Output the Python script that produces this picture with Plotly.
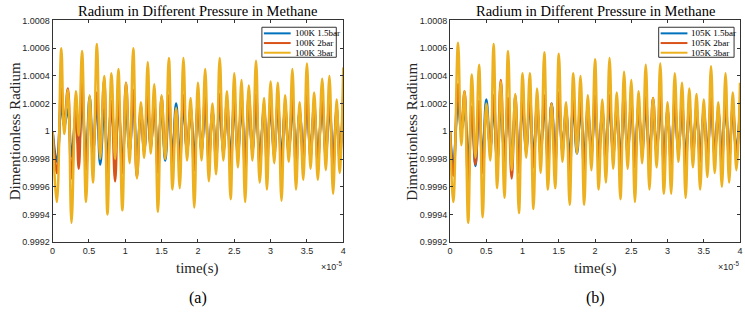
import plotly.graph_objects as go

# time in units of 1e-5 s (extrema)
time_a = [0, 0.06, 0.12, 0.16, 0.21, 0.26, 0.32, 0.36, 0.405, 0.46,
          0.51, 0.555, 0.61, 0.655, 0.71, 0.755, 0.81, 0.86, 0.905, 0.96,
          1.01, 1.06, 1.11, 1.16, 1.215, 1.26, 1.31, 1.35, 1.40, 1.45,
          1.50, 1.55, 1.60, 1.65, 1.70, 1.75, 1.80, 1.85, 1.90, 1.95,
          2.00, 2.05, 2.10, 2.15, 2.20, 2.25, 2.30, 2.35, 2.40, 2.45,
          2.50, 2.55, 2.60, 2.65, 2.70, 2.75, 2.80, 2.85, 2.91, 2.95,
          3.00, 3.05, 3.10, 3.15, 3.20, 3.25, 3.30, 3.35, 3.40, 3.45,
          3.50, 3.55, 3.60, 3.65, 3.71, 3.76, 3.81, 3.86, 3.91, 3.95, 4.00]

# deviation from 1 in units of 1e-4
a_15bar = [0, -2.2, 2.0, 0.3, 1.6, -1.8, 1.2, -1.2, 2.0, -1.8,
           2.5, -1.5, 2.0, -2.4, 1.6, -1.8, 1.8, -1.4, 1.8, -2.3,
           1.5, -1.4, 2.2, -1.7, 1.3, -1.3, 1.8, -1.0, 1.5, -1.6,
           1.6, -2.1, 1.7, -1.6, 2.0, -1.8, 1.8, -1.3, 1.4, -1.8,
           1.6, -1.3, 1.7, -1.6, 1.3, -1.5, 1.8, -1.3, 1.5, -1.7,
           1.7, -1.4, 1.6, -1.8, 1.6, -1.3, 1.8, -1.6, 1.4, -1.6,
           1.6, -1.4, 1.5, -1.7, 1.4, -1.3, 1.7, -1.6, 1.3, -1.5,
           1.8, -1.4, 1.5, -1.5, 1.6, -1.4, 1.6, -1.7, 1.3, -1.4, 1.7]
a_2bar = [0, -3.0, 3.1, 0.5, 3.1, -3.4, 1.5, -2.7, 3.5, -2.8,
          1.8, -1.6, 2.8, -1.5, 3.7, -3.2, 2.2, -3.6, 2.5, -3.0,
          3.5, -1.5, 3.0, -3.3, 1.8, -1.5, 2.6, -1.2, 2.0, -3.0,
          2.5, -1.8, 2.6, -2.4, 1.6, -2.5, 2.6, -1.5, 1.8, -2.8,
          2.2, -1.5, 2.5, -2.2, 1.5, -2.0, 2.7, -1.6, 2.2, -2.8,
          2.4, -1.8, 2.4, -2.9, 2.7, -1.5, 2.7, -2.4, 1.8, -2.5,
          2.3, -1.8, 2.2, -2.7, 1.8, -1.6, 2.5, -2.5, 1.5, -2.2,
          2.6, -1.9, 2.0, -2.2, 2.3, -1.9, 2.4, -2.6, 1.7, -2.0, 2.6]
a_3bar = [0, -5.1, 6.0, -0.2, 3.0, -6.6, 2.9, -0.3, 5.8, -5.1,
          2.6, -3.7, 6.3, -2.0, 4.0, -6.0, 4.2, -2.0, 4.5, -5.7,
          3.5, -2.3, 6.0, -3.4, 2.1, -1.9, 5.0, -1.6, 3.4, -5.8,
          2.6, -2.0, 5.3, -4.2, 1.7, -4.1, 5.3, -2.1, 2.4, -5.5,
          3.5, -2.1, 4.5, -3.6, 2.0, -3.1, 5.3, -2.1, 2.9, -4.9,
          4.2, -2.6, 3.7, -5.1, 3.3, -2.1, 5.1, -3.7, 2.4, -4.2,
          3.6, -2.3, 3.5, -5.0, 2.6, -2.2, 4.5, -4.2, 2.1, -3.5,
          4.9, -2.7, 2.8, -3.5, 3.8, -2.8, 4.0, -4.5, 2.3, -3.0, 4.6]

time_b = [0, 0.045, 0.11, 0.155, 0.20, 0.25, 0.30, 0.35, 0.40, 0.45,
          0.50, 0.555, 0.60, 0.65, 0.70, 0.75, 0.80, 0.85, 0.90, 0.95,
          1.00, 1.05, 1.10, 1.15, 1.20, 1.25, 1.30, 1.35, 1.40, 1.45,
          1.50, 1.55, 1.60, 1.65, 1.70, 1.75, 1.80, 1.85, 1.90, 1.95,
          2.00, 2.05, 2.10, 2.15, 2.20, 2.25, 2.30, 2.35, 2.40, 2.45,
          2.50, 2.55, 2.60, 2.65, 2.70, 2.75, 2.80, 2.85, 2.90, 2.95,
          3.00, 3.05, 3.10, 3.15, 3.20, 3.25, 3.30, 3.35, 3.40, 3.45,
          3.50, 3.55, 3.60, 3.65, 3.70, 3.75, 3.80, 3.85, 3.90, 3.95, 4.00]
b_15bar = [0, -2.5, 2.1, 0.0, 1.5, -2.0, 1.5, -2.5, 1.8, -1.8,
           2.3, -1.2, 1.8, -2.2, 1.8, -1.6, 2.1, -1.8, 1.5, -2.0,
           1.8, -1.2, 1.9, -1.8, 1.5, -1.3, 1.8, -1.7, 2.0, -1.6,
           2.0, -1.1, 1.3, -1.8, 1.7, -1.6, 1.6, -1.8, 1.3, -1.3,
           1.8, -1.6, 1.2, -1.5, 1.8, -1.3, 1.3, -1.7, 1.7, -1.3,
           1.5, -1.7, 1.4, -1.2, 1.7, -1.6, 1.4, -1.3, 1.7, -1.6,
           1.2, -1.6, 1.6, -1.2, 1.4, -1.7, 1.4, -1.3, 1.3, -1.6,
           1.2, -1.4, 1.7, -1.4, 1.2, -1.5, 1.6, -1.5, 1.3, -1.3, 1.5]
b_2bar = [0, -3.2, 3.4, 0.0, 2.9, -3.8, 1.8, -2.4, 2.2, -3.0,
          1.6, -1.2, 2.6, -2.2, 3.7, -2.2, 2.4, -3.4, 2.6, -3.0,
          2.4, -1.5, 2.6, -2.6, 2.0, -1.8, 2.6, -2.2, 2.0, -2.4,
          2.8, -1.5, 1.6, -3.0, 2.2, -1.2, 2.2, -2.8, 1.8, -1.8,
          2.6, -2.2, 1.6, -2.2, 2.6, -1.8, 1.8, -2.5, 2.8, -1.7,
          2.2, -2.6, 1.9, -1.6, 2.5, -2.2, 2.4, -1.7, 2.5, -2.4,
          1.6, -2.4, 2.3, -1.5, 2.0, -2.5, 1.9, -1.7, 1.7, -2.2,
          1.6, -1.9, 2.4, -1.8, 1.5, -2.2, 2.3, -2.0, 1.8, -1.7, 2.0]
b_3bar = [0, -5.1, 6.4, -1.0, 2.9, -6.6, 4.1, -1.9, 4.8, -6.2,
          2.0, -2.1, 6.3, -4.1, 3.6, -4.8, 5.8, -2.8, 2.7, -5.9,
          4.2, -1.9, 4.2, -5.6, 3.1, -3.0, 5.7, -4.2, 2.0, -4.1,
          5.6, -2.2, 2.1, -5.3, 4.2, -1.6, 4.0, -5.3, 2.6, -2.8,
          5.2, -4.2, 2.3, -3.7, 5.3, -2.7, 2.8, -4.9, 4.3, -2.7,
          3.7, -5.1, 2.9, -2.3, 4.8, -4.2, 2.4, -2.6, 4.9, -4.5,
          2.1, -4.5, 4.2, -2.2, 3.5, -4.8, 3.1, -2.6, 2.7, -4.2,
          2.3, -3.3, 4.7, -3.0, 2.1, -4.0, 4.2, -3.7, 2.8, -2.8, 3.5]

names_a = ["100K 1.5bar", "100K 2bar", "100K 3bar"]
names_b = ["105K 1.5bar", "105K 2bar", "105K 3bar"]
colors = ["#0072BD", "#D95319", "#EDB120"]
y_ticks = [0.9992, 0.9994, 0.9996, 0.9998, 1.0, 1.0002, 1.0004, 1.0006, 1.0008]
y_ticktext = ["0.9992", "0.9994", "0.9996", "0.9998", "1", "1.0002", "1.0004", "1.0006", "1.0008"]
x_ticks = [0, 0.5, 1, 1.5, 2, 2.5, 3, 3.5, 4]
x_ticktext = ["0", "0.5", "1", "1.5", "2", "2.5", "3", "3.5", "4"]

W, H = 745, 313
def px(x): return x / W
def py(y): return 1 - y / H

fig = go.Figure()
for series, name, col in zip([a_15bar, a_2bar, a_3bar], names_a, colors):
    fig.add_trace(go.Scatter(x=time_a, y=[1 + d * 1e-4 for d in series], mode="lines",
                             name=name, line=dict(color=col, width=2.5, shape="spline", smoothing=1.2),
                             xaxis="x", yaxis="y", showlegend=False))
for series, name, col in zip([b_15bar, b_2bar, b_3bar], names_b, colors):
    fig.add_trace(go.Scatter(x=time_b, y=[1 + d * 1e-4 for d in series], mode="lines",
                             name=name, line=dict(color=col, width=2.5, shape="spline", smoothing=1.2),
                             xaxis="x2", yaxis="y2", showlegend=False))

axis_common = dict(showgrid=False, zeroline=False, showline=True, linecolor="#333333",
                   linewidth=1, mirror="ticks", ticks="inside", ticklen=3, tickcolor="#333333",
                   tickfont=dict(family="Liberation Sans, Arial", size=9, color="#262626"))
ydom = [py(245), py(16)]
fig.update_layout(
    width=W, height=H, margin=dict(l=0, r=0, t=0, b=0),
    paper_bgcolor="white", plot_bgcolor="white",
    xaxis=dict(domain=[px(50), px(343)], range=[0, 4], tickvals=x_ticks, ticktext=x_ticktext,
               anchor="y", **axis_common),
    yaxis=dict(domain=ydom, range=[0.9992, 1.0008], tickvals=y_ticks, ticktext=y_ticktext,
               anchor="x", **axis_common),
    xaxis2=dict(domain=[px(450.7), px(743)], range=[0, 4], tickvals=x_ticks, ticktext=x_ticktext,
                anchor="y2", **axis_common),
    yaxis2=dict(domain=ydom, range=[0.9992, 1.0008], tickvals=y_ticks, ticktext=y_ticktext,
                anchor="x2", **axis_common),
)

serif = "Liberation Serif, Times New Roman"
annotations = []
shapes = []
panels = [
    dict(x0=50, x1=343, label="(a)", names=names_a, lg=(261, 336)),
    dict(x0=450.7, x1=743, label="(b)", names=names_b, lg=(661, 737)),
]
for p in panels:
    cx = (p["x0"] + p["x1"]) / 2
    annotations.append(dict(text="Radium in Different Pressure in Methane", x=px(cx), y=py(6),
                            xref="paper", yref="paper", showarrow=False, xanchor="center", yanchor="middle",
                            font=dict(family=serif, size=14.5, color="black")))
    annotations.append(dict(text="time(s)", x=px(cx), y=py(272), xref="paper", yref="paper",
                            showarrow=False, xanchor="center", yanchor="middle",
                            font=dict(family=serif, size=15, color="#262626")))
    annotations.append(dict(text="×10<sup>-5</sup>", x=px(min(p["x1"] + 1, 744.5)), y=py(270),
                            xref="paper", yref="paper",
                            showarrow=False, xanchor="right", yanchor="middle",
                            font=dict(family="Liberation Sans, Arial", size=9, color="#262626")))
    annotations.append(dict(text=p["label"], x=px(cx), y=py(303), xref="paper", yref="paper",
                            showarrow=False, xanchor="center", yanchor="middle",
                            font=dict(family=serif, size=16, color="black")))
    annotations.append(dict(text="Dimentionless Radium", x=px(p["x0"] - 38), y=py(130.5),
                            xref="paper", yref="paper", showarrow=False, textangle=-90,
                            xanchor="center", yanchor="middle",
                            font=dict(family=serif, size=15, color="#262626")))
    lx0, lx1 = p["lg"]
    shapes.append(dict(type="rect", xref="paper", yref="paper", x0=px(lx0), x1=px(lx1),
                       y0=py(54), y1=py(23), line=dict(color="#333333", width=1), fillcolor="white"))
    for i, (nm, col) in enumerate(zip(p["names"], colors)):
        yy = 29.3 + 10 * i
        shapes.append(dict(type="line", xref="paper", yref="paper", x0=px(lx0 + 2), x1=px(lx0 + 29),
                           y0=py(yy), y1=py(yy), line=dict(color=col, width=2)))
        annotations.append(dict(text=nm, x=px(lx0 + 31), y=py(yy), xref="paper", yref="paper",
                                showarrow=False, xanchor="left", yanchor="middle",
                                font=dict(family=serif, size=9, color="black")))

fig.update_layout(annotations=annotations, shapes=shapes)
fig.write_html("out.html", config={"displayModeBar": False},
               post_script="document.body.style.margin='0';document.body.style.padding='0';")
